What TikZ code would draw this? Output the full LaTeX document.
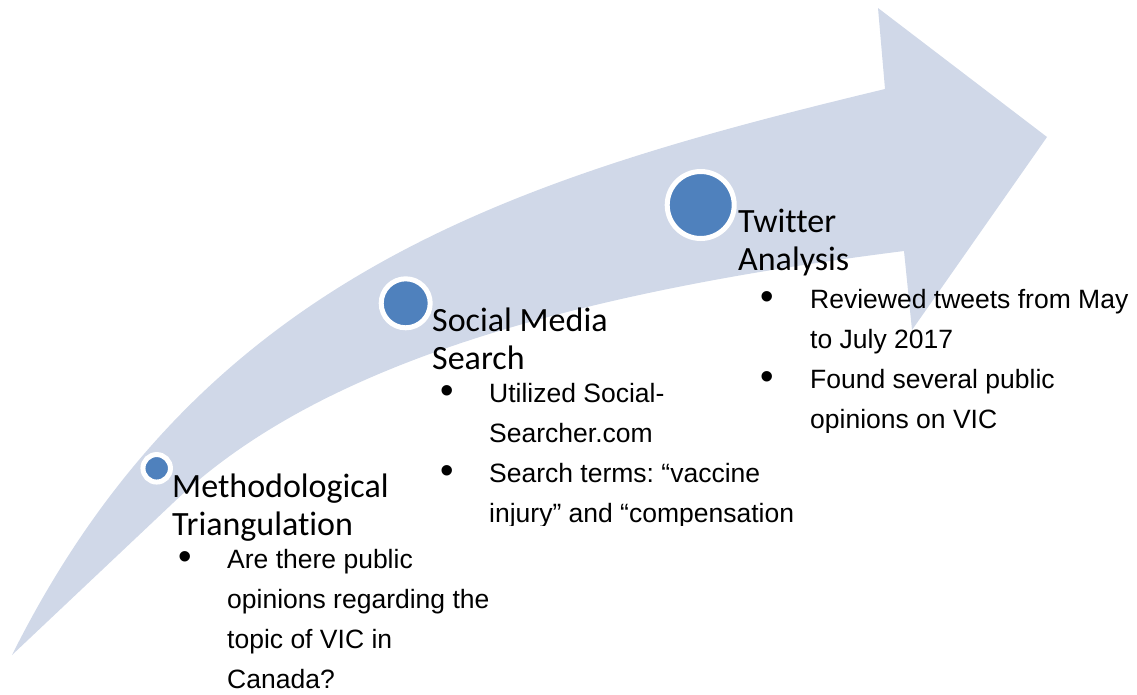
\documentclass[tikz,border=0pt]{standalone}
\usepackage{fontspec}
\setmainfont{Liberation Sans}
\newfontfamily\headfont[Ligatures=NoCommon]{Carlito}
\usetikzlibrary{positioning}
\frenchspacing

\definecolor{bandfill}{HTML}{D0D8E8}
\definecolor{dotblue}{HTML}{4F81BD}
\newcommand{\bul}{\raisebox{-1.5pt}{\scalebox{1.45}{\textbullet}}}

\begin{document}
\begin{tikzpicture}[x=1pt,y=-1pt,
stage/.style={circle,fill=dotblue,draw=white,line width=5pt,inner sep=0pt},
heading/.style={anchor=base west,inner sep=0pt,align=left,font=\headfont\fontsize{34}{38}\selectfont},
items/.style={anchor=base west,inner sep=0pt,font=\fontsize{26.5}{40}\selectfont}]
\useasboundingbox (0,0) rectangle (1137,694);

% the curved band with its arrow head
\fill[bandfill] (12,655) .. controls (202,275) and (511,179) .. (885,89)
  -- (878,8) -- (1047,137) -- (912,330) -- (904,251)
  .. controls (547,296) and (310,372) .. (173,503) -- cycle;

% stages
\node[stage,minimum size=27.5pt] (triang) at (156.7,468.3) {};
\node[stage,minimum size=49pt] (social) at (405.7,303.3) {};
\node[stage,minimum size=67pt] (twitter) at (700.7,205) {};

% headings sit on the baseline of their second line
\node[heading] (triangtitle) at (172,535) {Methodological\\Triangulation};
\node[heading] (socialtitle) at (432,369) {Social Media\\Search};
\node[heading] (twittertitle) at (738,270) {Twitter\\Analysis};

\node[items] (triangitems) at (178.5,568) {\begin{tabular}[t]{@{}p{48.5pt}@{}l@{}}
\bul & Are there public\\
 & opinions regarding the\\
 & topic of VIC in\\
 & Canada?
\end{tabular}};

\begin{scope}
\clip (420,370) rectangle (1137,525);
\node[items] (socialitems) at (440.5,402) {\begin{tabular}[t]{@{}p{48.5pt}@{}l@{}}
\bul & Utilized Social-\\
 & Searcher.com\\
\bul & Search terms: “vaccine\\
 & injury” and “compensation
\end{tabular}};
\end{scope}

\begin{scope}
\clip (740,275) rectangle (1137,432);
\node[items] (twitteritems) at (760.5,308) {\begin{tabular}[t]{@{}p{49.5pt}@{}l@{}}
\bul & Reviewed tweets from May\\
 & to July 2017\\
\bul & Found several public\\
 & opinions on VIC
\end{tabular}};
\end{scope}
\end{tikzpicture}
\end{document}
